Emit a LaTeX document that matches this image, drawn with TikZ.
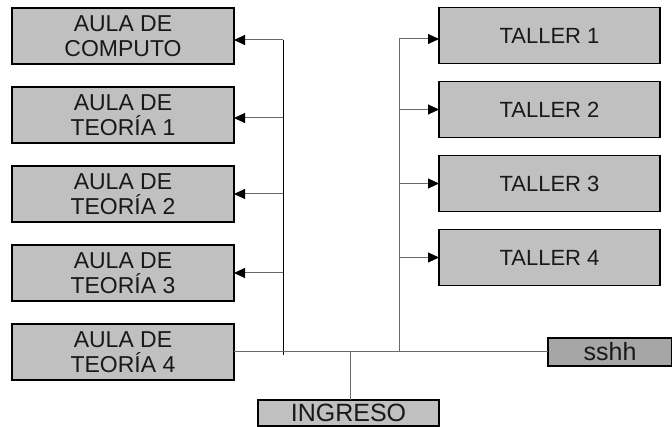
\documentclass[tikz,border=0pt]{standalone}
\usepackage{fontspec}
\setmainfont{Liberation Sans}
\usepackage{xcolor}
\usetikzlibrary{arrows.meta, positioning}
\definecolor{boxgray}{HTML}{C0C0C0}
\definecolor{darkgray}{HTML}{A6A6A6}
\definecolor{linegray}{HTML}{6A6A6A}

\begin{document}
\begin{tikzpicture}[
    x=1pt, y=-1pt,
    font=\fontsize{23}{25}\selectfont,
    aula/.style={rectangle, draw=black, line width=1.6pt, fill=boxgray,
                minimum width=222pt, minimum height=56pt, align=center,
                inner sep=0pt, outer sep=0pt, text=black!90},
    taller/.style={aula, minimum width=221pt, font=\fontsize{22}{25}\selectfont},
    small/.style={rectangle, draw=black, line width=1.6pt, fill=boxgray,
                minimum height=26pt, inner sep=0pt, outer sep=0pt,
                font=\fontsize{25}{25}\selectfont, text=black!90},
    arrow/.style={-{Triangle[length=11pt, width=10pt, color=black]}, line width=1pt, draw=linegray},
    bus/.style={line width=1pt, draw=linegray}
]
\useasboundingbox (0,0) rectangle (672,427);

\node[aula] (aula1) at (123,36) {AULA DE\\COMPUTO};
\node[aula, below=23pt of aula1] (aula2) {AULA DE\\TEORÍA 1};
\node[aula, below=23pt of aula2] (aula3) {AULA DE\\TEORÍA 2};
\node[aula, below=23pt of aula3] (aula4) {AULA DE\\TEORÍA 3};
\node[aula, below=23pt of aula4] (aula5) {AULA DE\\TEORÍA 4};

\node[taller] (taller1) at (549.5,35.5) {TALLER 1};
\node[taller, below=18pt of taller1] (taller2) {TALLER 2};
\node[taller, below=18pt of taller2] (taller3) {TALLER 3};
\node[taller, below=18pt of taller3] (taller4) {TALLER 4};

\node[small, fill=darkgray, minimum width=124pt, minimum height=28pt] (sshh) at (610,352) {sshh};
\node[small, minimum width=181pt] (ingreso) at (348.5,413) {INGRESO};

\coordinate (ltop) at (283,40);
\coordinate (lbot) at (283,355);
\coordinate (rtop) at (399,39);
\coordinate (stem) at (350,352);

\draw[line width=1pt] (ltop) -- (lbot);
\draw[bus] (rtop) -- (rtop |- aula5.east);
\draw[bus] (aula5.east) -- (sshh.west);
\draw[bus] (stem) -- (ingreso.north -| stem);

\draw[arrow] (ltop) -- (ltop -| aula1.east);
\foreach \n/\dy in {2/3, 3/0, 4/0} {
  \draw[arrow] ([yshift=-\dy pt]aula\n.east -| ltop) -- ([yshift=-\dy pt]aula\n.east);
}
\draw[arrow] (rtop) -- (rtop -| taller1.west);
\foreach \n in {2,3,4} {
  \draw[arrow] (taller\n.west -| rtop) -- (taller\n.west);
}

\end{tikzpicture}
\end{document}
